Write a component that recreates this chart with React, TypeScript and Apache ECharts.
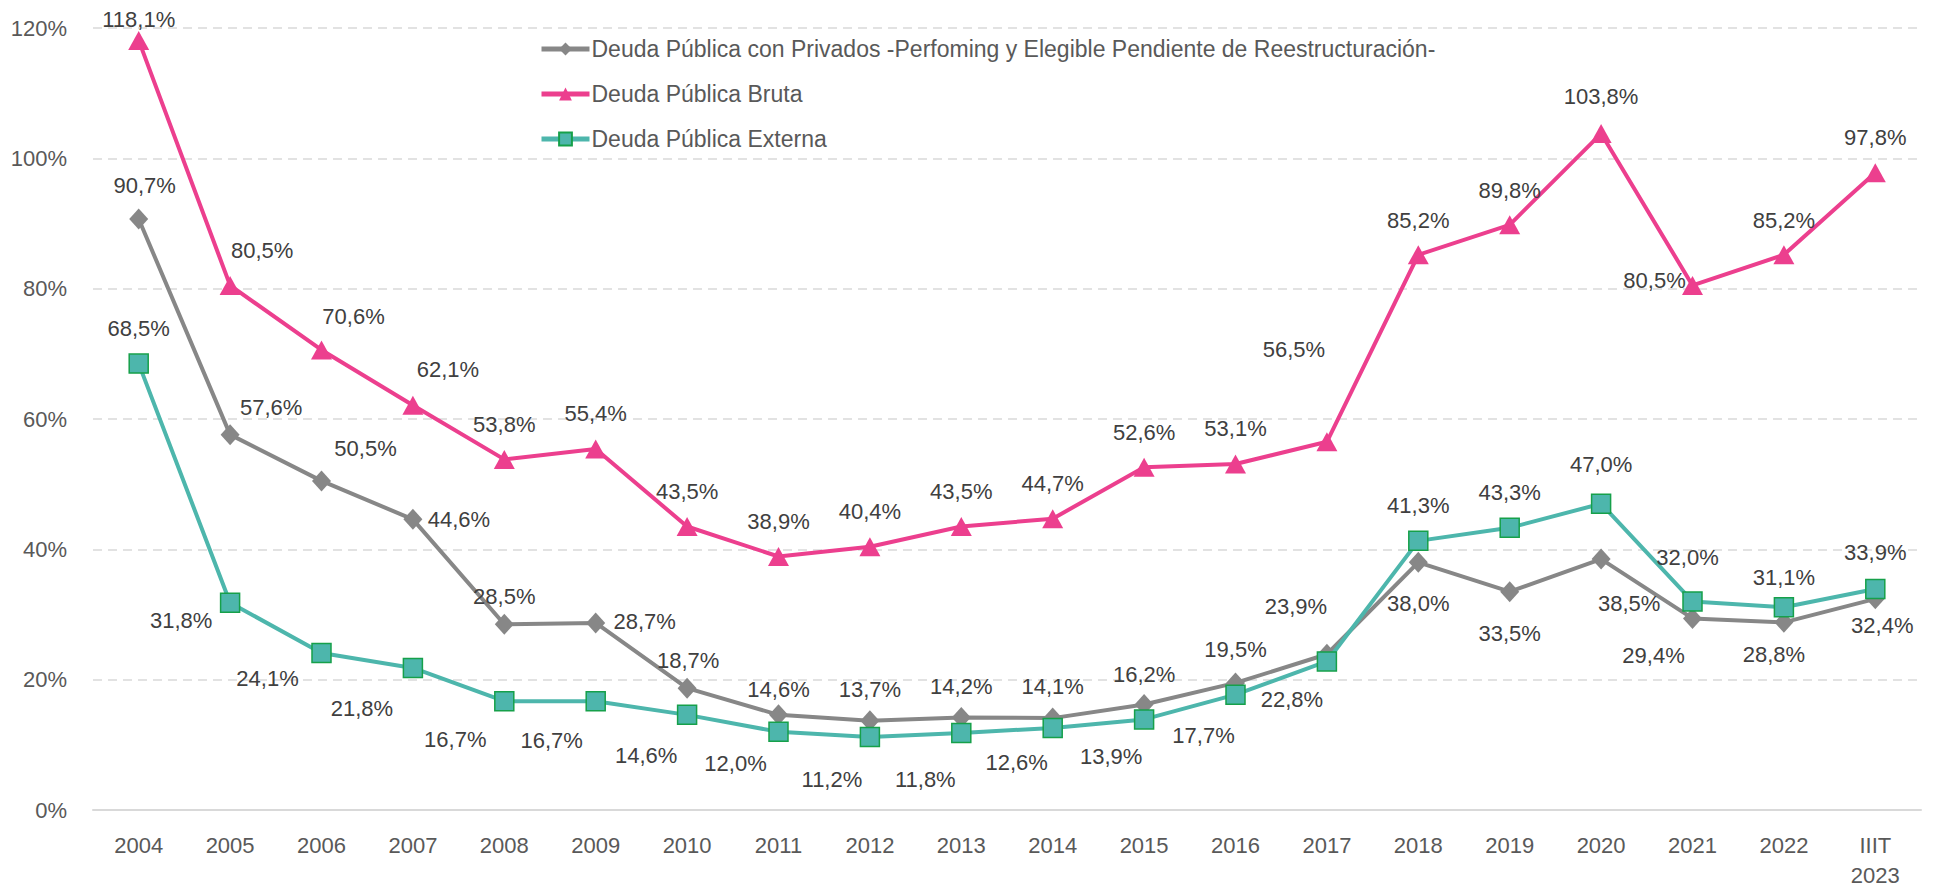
import React, { useEffect, useRef } from "react";
import * as echarts from "echarts";

const categories = ["2004", "2005", "2006", "2007", "2008", "2009", "2010", "2011", "2012", "2013", "2014", "2015", "2016", "2017", "2018", "2019", "2020", "2021", "2022", "IIIT\n2023"];

const privados = [90.7, 57.6, 50.5, 44.6, 28.5, 28.7, 18.7, 14.6, 13.7, 14.2, 14.1, 16.2, 19.5, 23.9, 38.0, 33.5, 38.5, 29.4, 28.8, 32.4];
const bruta = [118.1, 80.5, 70.6, 62.1, 53.8, 55.4, 43.5, 38.9, 40.4, 43.5, 44.7, 52.6, 53.1, 56.5, 85.2, 89.8, 103.8, 80.5, 85.2, 97.8];
const externa = [68.5, 31.8, 24.1, 21.8, 16.7, 16.7, 14.6, 12.0, 11.2, 11.8, 12.6, 13.9, 17.7, 22.8, 41.3, 43.3, 47.0, 32.0, 31.1, 33.9];

const seriesNames = [
  "Deuda Pública con Privados -Perfoming y Elegible Pendiente de Reestructuración-",
  "Deuda Pública Bruta",
  "Deuda Pública Externa",
];

// label offsets (px) relative to each point
const privadosOffsets = [[6, -33], [41, -27], [44, -32], [46, 0], [0, -28], [49, -1], [1, -28], [0, -25], [0, -31], [0, -31], [0, -32], [0, -30], [0, -33], [-31, -48], [0, 41], [0, 42], [28, 44], [-39, 37], [-10, 32], [7, 27]];
const brutaOffsets = [[0, -21], [32, -35], [32, -33], [35, -36], [0, -35], [0, -35], [0, -35], [0, -35], [0, -35], [0, -35], [0, -35], [0, -35], [0, -35], [-33, -92], [0, -34], [0, -34], [0, -37], [-38, -5], [0, -34], [0, -35]];
const externaOffsets = [[0, -35], [-49, 18], [-54, 26], [-51, 41], [-49, 38], [-44, 39], [-41, 41], [-43, 32], [-38, 42], [-36, 46], [-36, 35], [-33, 37], [-32, 41], [-35, 38], [0, -35], [0, -35], [0, -39], [-5, -44], [0, -30], [0, -37]];

const FONT = "'Liberation Sans', Arial, sans-serif";

const fmt = (v: number) => v.toFixed(1).replace(".", ",") + "%";

function withLabels(values: number[], offsets: number[][]) {
  return values.map((v, i) => ({
    value: v,
    label: { offset: offsets[i] },
  }));
}

export default function App() {
  const ref = useRef<HTMLDivElement>(null);
  useEffect(() => {
    if (!ref.current) return;
    const chart = echarts.init(ref.current, null, { renderer: "svg" });
    const labelBase = {
      show: true,
      position: "inside" as const,
      color: "#404040",
      fontSize: 22,
      fontFamily: FONT,
      formatter: (p: any) => fmt(p.value),
    };
    chart.setOption({
      animation: false,
      backgroundColor: "#ffffff",
      grid: { left: 85, right: 5, top: 20, bottom: 78, containLabel: false, outerBoundsMode: "none" },
      legend: {
        orient: "vertical",
        left: 531,
        top: 29,
        itemWidth: 48,
        itemHeight: 16,
        itemGap: 21,
        backgroundColor: "#ffffff",
        padding: 0,
        lineStyle: { width: 5 },
        textStyle: { fontSize: 23, color: "#595959", fontFamily: FONT, lineHeight: 24, padding: [0, 0, 0, -3] },
        data: seriesNames,
      },
      xAxis: {
        type: "category",
        data: categories,
        boundaryGap: true,
        axisLine: { show: true, lineStyle: { color: "#D9D9D9", width: 2 } },
        axisTick: { show: false },
        axisLabel: { color: "#595959", fontSize: 22, fontFamily: FONT, margin: 20, lineHeight: 30 },
      },
      yAxis: {
        type: "value",
        min: 0,
        max: 120,
        interval: 20,
        axisLine: { show: false },
        axisTick: { show: false },
        axisLabel: { color: "#595959", fontSize: 22, fontFamily: FONT, margin: 26, formatter: "{value}%" },
        splitLine: { lineStyle: { color: "#D9D9D9", width: 1.5, type: [9, 6] } },
      },
      series: [
        {
          name: seriesNames[0],
          type: "line",
          data: withLabels(privados, privadosOffsets),
          symbol: "diamond",
          symbolSize: [19, 21],
          lineStyle: { color: "#878787", width: 4 },
          itemStyle: { color: "#878787" },
          label: labelBase,
          z: 3,
        },
        {
          name: seriesNames[1],
          type: "line",
          data: withLabels(bruta, brutaOffsets),
          symbol: "triangle",
          symbolSize: [21, 19],
          lineStyle: { color: "#EC3F8E", width: 4 },
          itemStyle: { color: "#EC3F8E" },
          label: labelBase,
          z: 4,
        },
        {
          name: seriesNames[2],
          type: "line",
          data: withLabels(externa, externaOffsets),
          symbol: "rect",
          symbolSize: 19,
          lineStyle: { color: "#4DB6AC", width: 4 },
          itemStyle: { color: "#4DB6AC", borderColor: "#16A04A", borderWidth: 1.5 },
          label: labelBase,
          z: 5,
        },
      ],
    });
    return () => chart.dispose();
  }, []);
  return <div ref={ref} style={{ width: 1918, height: 880 }} />;
}
